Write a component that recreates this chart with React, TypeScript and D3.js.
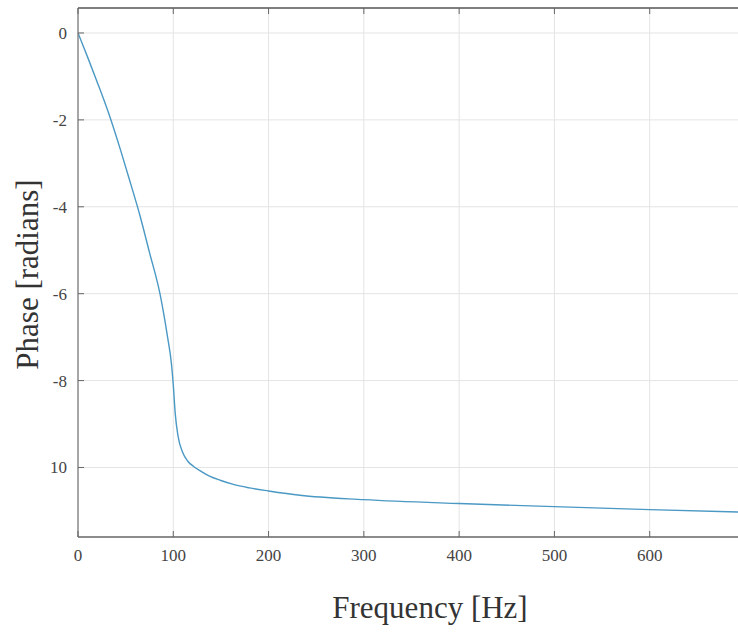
import { scaleLinear, line, curveMonotoneX } from 'd3';

const width = 738;
const height = 637;
const margin = { top: 8, left: 78, bottom: 100, right: -7 };
const innerWidth = width - margin.left - margin.right;
const innerHeight = height - margin.top - margin.bottom;

// frequency [Hz] and phase [radians]
const freq = [0, 10, 20, 33, 45, 55, 65, 75, 86, 94, 98, 100, 102, 105, 110, 115, 121, 130, 138, 150, 163, 180, 200, 233, 300, 400, 500, 600, 700];
const phase = [0, -0.55, -1.12, -1.9, -2.72, -3.45, -4.2, -5.05, -6.0, -7.0, -7.6, -8.1, -8.75, -9.28, -9.66, -9.85, -9.97, -10.1, -10.2, -10.3, -10.39, -10.47, -10.54, -10.64, -10.74, -10.83, -10.9, -10.97, -11.03];

const xTicks = [0, 100, 200, 300, 400, 500, 600];
const yTicks = [0, -2, -4, -6, -8, -10];
const yTickLabels = ['0', '-2', '-4', '-6', '-8', '10'];

const font = 'Liberation Serif';

export default function App() {
  const xScale = scaleLinear().domain([0, 700]).range([0, innerWidth]);
  const yScale = scaleLinear().domain([-11.6, 0.575]).range([innerHeight, 0]);

  const pts = freq.map((f, i) => [f, phase[i]] as [number, number]);
  const path = line<[number, number]>()
    .x((d) => xScale(d[0]))
    .y((d) => yScale(d[1]))
    .curve(curveMonotoneX)(pts);

  return (
    <div style={{ position: 'absolute', left: 0, top: 0 }}>
      <svg width={width} height={height} style={{ display: 'block', background: '#fff' }}>
        <defs>
          <clipPath id="plotclip">
            <rect x={0} y={0} width={innerWidth} height={innerHeight} />
          </clipPath>
        </defs>
        <g transform={`translate(${margin.left},${margin.top})`}>
          {/* grid */}
          {xTicks.slice(1).map((t) => (
            <line key={'gx' + t} x1={xScale(t)} x2={xScale(t)} y1={0} y2={innerHeight} stroke="#e4e4e4" strokeWidth={1} />
          ))}
          {yTicks.map((t) => (
            <line key={'gy' + t} x1={0} x2={innerWidth} y1={yScale(t)} y2={yScale(t)} stroke="#e4e4e4" strokeWidth={1} />
          ))}

          {/* curve */}
          <path d={path || ''} fill="none" stroke="#4a98c4" strokeWidth={1.4} clipPath="url(#plotclip)" />

          {/* frame */}
          <line x1={0} x2={innerWidth} y1={0} y2={0} stroke="#555" strokeWidth={1.3} />
          <line x1={0} x2={innerWidth} y1={innerHeight} y2={innerHeight} stroke="#666" strokeWidth={1.3} />
          <line x1={0} x2={0} y1={0} y2={innerHeight} stroke="#777" strokeWidth={1.3} />

          {/* x ticks */}
          {xTicks.map((t) => (
            <g key={'xt' + t}>
              <line x1={xScale(t)} x2={xScale(t)} y1={innerHeight} y2={innerHeight - 6} stroke="#666" />
              <line x1={xScale(t)} x2={xScale(t)} y1={0} y2={6} stroke="#666" />
              <text x={xScale(t)} y={innerHeight + 24} textAnchor="middle" fontSize={17} fontFamily={font} fill="#444">
                {t}
              </text>
            </g>
          ))}

          {/* y ticks */}
          {yTicks.map((t, i) => (
            <g key={'yt' + t}>
              <line x1={0} x2={6} y1={yScale(t)} y2={yScale(t)} stroke="#666" />
              <text x={-11} y={yScale(t)} dy="0.35em" textAnchor="end" fontSize={17} fontFamily={font} fill="#444">
                {yTickLabels[i]}
              </text>
            </g>
          ))}
        </g>

        <text x={430} y={618} textAnchor="middle" fontSize={31} fontFamily={font} fill="#333">
          Frequency [Hz]
        </text>
        <text
          transform={`translate(38,${margin.top + innerHeight / 2 + 2}) rotate(-90)`}
          textAnchor="middle"
          fontSize={31}
          fontFamily={font}
          fill="#333"
        >
          Phase [radians]
        </text>
      </svg>
    </div>
  );
}
